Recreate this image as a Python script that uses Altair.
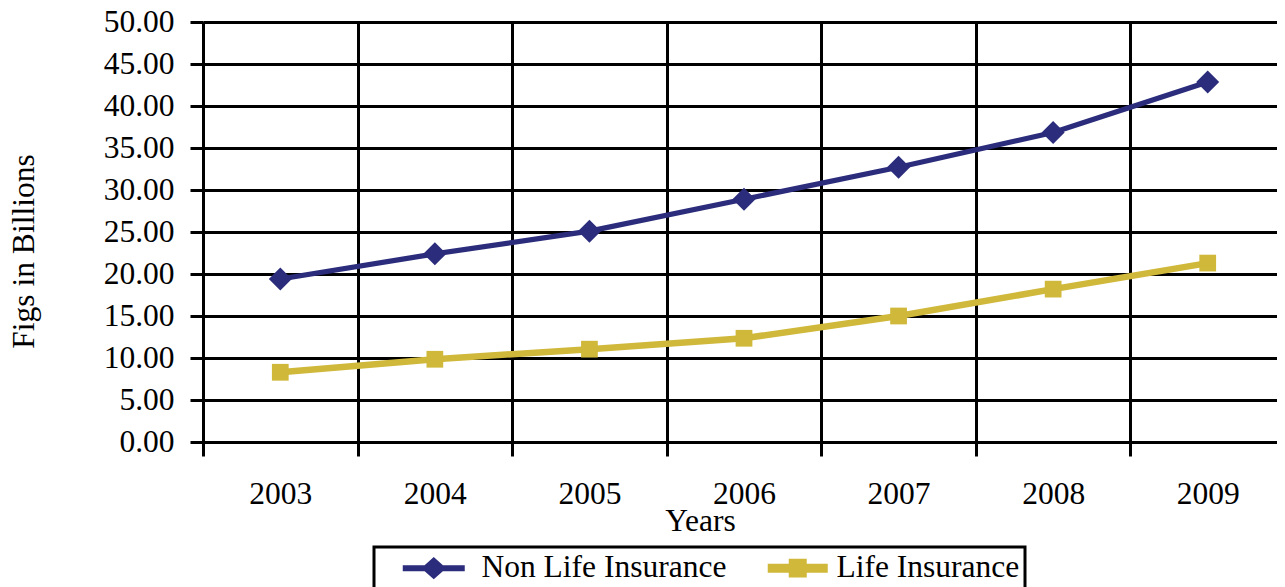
import altair as alt
import pandas as pd

years = ["2003", "2004", "2005", "2006", "2007", "2008", "2009"]
non_life = [19.4, 22.4, 25.1, 28.9, 32.7, 36.85, 42.85]
life = [8.3, 9.85, 11.05, 12.35, 15.0, 18.2, 21.3]
series_names = ["Non Life Insurance", "Life Insurance"]
series_colors = ["#2B2C7B", "#CFB83A"]
y_ticks = [0, 5, 10, 15, 20, 25, 30, 35, 40, 45, 50]

df = pd.DataFrame({
    "year": years * 2,
    "series": [series_names[0]] * len(years) + [series_names[1]] * len(years),
    "value": non_life + life,
})

FONT = "Liberation Serif"
FS = 31.5

# legend symbols: line segment with marker (units of 12 px)
sym_diamond = ("M-2.583,-0.25L2.583,-0.25L2.583,0.25L-2.583,0.25Z "
               "M0,-0.917L1.042,0L0,0.917L-1.042,0Z")
sym_square = ("M-1.75,-0.375L3.25,-0.375L3.25,0.375L-1.75,0.375Z "
              "M0,-0.79L1.5,-0.79L1.5,0.79L0,0.79Z")

x_enc = alt.X(
    "year:O",
    scale=alt.Scale(type="band", paddingInner=0, paddingOuter=0),
    axis=alt.Axis(
        title="Years", tickBand="extent", grid=True, gridColor="black", gridWidth=3, gridOpacity=1,
        domainColor="black", domainWidth=3, tickColor="black", tickWidth=3, tickSize=14,
        labelAngle=0, labelFont=FONT, labelFontSize=FS, labelColor="black", labelPadding=22,
        titleFont=FONT, titleFontSize=FS, titleFontWeight="normal", titleColor="black",
        titleX=497, titleY=88, titleBaseline="alphabetic", titleAlign="center",
    ),
)
y_enc = alt.Y(
    "value:Q",
    scale=alt.Scale(domain=[0, 50], nice=False),
    axis=alt.Axis(
        title="Figs in Billions", values=y_ticks, format=".2f", grid=True, gridColor="black",
        gridWidth=3, gridOpacity=1, domainColor="black", domainWidth=3, tickColor="black",
        tickWidth=3, tickSize=13, labelFont=FONT, labelFontSize=FS, labelColor="black",
        labelPadding=16, titleFont=FONT, titleFontSize=FS, titleFontWeight="normal",
        titleColor="black", titleX=-170, titleY=229, titleBaseline="alphabetic",
        titleAlign="center", titleAngle=270,
    ),
)

color_scale = alt.Scale(domain=series_names, range=series_colors)

legend_props = dict(
    title=None, orient="none", legendX=171, legendY=525, direction="horizontal",
    strokeColor="black", padding=5, symbolSize=576, symbolStrokeWidth=0, symbolOpacity=1,
    symbolOffset=39, labelFont=FONT, labelFontSize=FS, labelColor="black", labelOffset=32,
    columnPadding=7, labelLimit=500,
)


def color_enc():
    return alt.Color("series:N", scale=color_scale, legend=alt.Legend(**legend_props))


base = alt.Chart(df)

legend_layer = base.mark_point(filled=True, opacity=0).encode(
    x=x_enc, y=y_enc,
    color=color_enc(),
    shape=alt.Shape("series:N", scale=alt.Scale(domain=series_names, range=[sym_diamond, sym_square]),
                    legend=alt.Legend(**legend_props)),
)
line_nl = base.transform_filter(alt.datum.series == series_names[0]).mark_line(
    strokeWidth=5.2).encode(x=x_enc, y=y_enc, color=color_enc())
line_l = base.transform_filter(alt.datum.series == series_names[1]).mark_line(
    strokeWidth=6.5).encode(x=x_enc, y=y_enc, color=color_enc())
pts_nl = base.transform_filter(alt.datum.series == series_names[0]).mark_point(
    shape="diamond", filled=True, size=529, opacity=1
).encode(x=x_enc, y=y_enc, color=color_enc())
pts_l = base.transform_filter(alt.datum.series == series_names[1]).mark_point(
    shape="square", filled=True, size=280, opacity=1
).encode(x=x_enc, y=y_enc, color=color_enc())

chart = alt.layer(legend_layer, line_nl, line_l, pts_nl, pts_l).properties(
    width=1082, height=420,
    autosize=alt.AutoSizeParams(type="none"),
    padding={"left": 195, "top": 14, "right": -8, "bottom": 150},
    background="white",
).configure_view(stroke=None).configure_legend(strokeWidth=3)

chart.save("out.html", embed_options={"renderer": "svg", "actions": False})
